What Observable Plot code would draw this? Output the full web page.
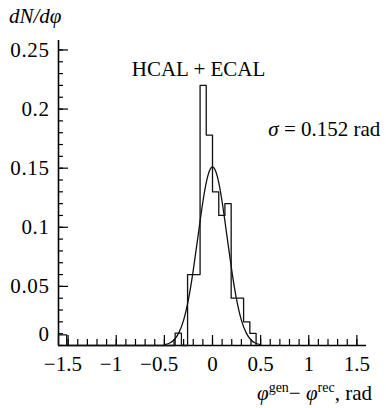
<!DOCTYPE html>
<html><head><meta charset="utf-8">
<script src="https://cdn.jsdelivr.net/npm/d3@7"></script>
<script src="https://cdn.jsdelivr.net/npm/@observablehq/plot@0.6"></script>
<style>
body{margin:0;background:#fff;}
#chart svg{font-family:"Liberation Serif","Times New Roman",serif;}
</style></head><body><div id="chart"></div>
<script>
// Histogram bins: edges and heights (dN/dφ)
const histEdges = [-1.6, -1.515, -0.388, -0.323, -0.259, -0.194, -0.129, -0.065, 0, 0.065, 0.129, 0.194, 0.259, 0.323, 0.388, 0.453];
const histValues = [0.009, 0, 0.0105, 0, 0.060, 0.060, 0.220, 0.178, 0.130, 0.110, 0.120, 0.040, 0.040, 0.020, 0.0103];
// Gaussian fit curve
const fitX = [-0.5, -0.45, -0.4, -0.35, -0.3, -0.25, -0.2, -0.15, -0.1, -0.05, 0, 0.05, 0.1, 0.15, 0.2, 0.25, 0.3, 0.35, 0.4, 0.45, 0.5];
const fitY = [0.0007, 0.0019, 0.0047, 0.0107, 0.0215, 0.039, 0.0636, 0.0927, 0.1216, 0.143, 0.151, 0.143, 0.1216, 0.0927, 0.0636, 0.039, 0.0215, 0.0107, 0.0047, 0.0019, 0.0007];
// Ticks
const xMajorTicks = [-1.5, -1, -0.5, 0, 0.5, 1, 1.5];
const xTickLabels = ["−1.5\u2002", "−1\u2002", "−0.5\u2002", "0", "0.5", "1", "1.5"];
const yMajorTicks = [0, 0.05, 0.1, 0.15, 0.2, 0.25];
const yTickLabels = ["0", "0.05", "0.1", "0.15", "0.2", "0.25"];
const xMinorTicks = d3.range(-15, 16).map(d => d / 10);
const yMinorTicks = d3.range(0, 26).map(d => d / 100);
// Texts
const titleText = "HCAL + ECAL";
const sigmaText = "σ = 0.152 rad";
const yTitle = "dN/dφ";

const outline = [{x: histEdges[0], y: 0}]
  .concat(histValues.map((v, i) => ({x: histEdges[i], y: v})))
  .concat([{x: histEdges[histEdges.length - 1], y: 0}]);
const fit = fitX.map((x, i) => ({x, y: fitY[i]}));

const plot = Plot.plot({
  width: 386, height: 408,
  marginLeft: 58, marginRight: 20, marginTop: 40, marginBottom: 63,
  style: {fontFamily: "Liberation Serif", fontSize: "21px", color: "#000", background: "#fff", overflow: "visible"},
  x: {domain: [-1.6, 1.6], label: null},
  y: {domain: [0, 0.258], label: null},
  marks: [
    Plot.axisX(xMinorTicks, {tickSize: 6, dy: -6, tickFormat: () => "", strokeWidth: 1.2, label: null}),
    Plot.axisX(xMajorTicks, {tickSize: 10, dy: -10, tickFormat: () => "", strokeWidth: 1.2, label: null}),
    Plot.axisX(xMajorTicks, {tickSize: 0, tickPadding: 11, tickFormat: d => xTickLabels[xMajorTicks.indexOf(d)], fontSize: 21, label: null, ariaLabel: "x-axis tick label"}),
    Plot.axisY(yMinorTicks, {tickSize: 5, dx: 5, tickFormat: () => "", strokeWidth: 1.2, label: null}),
    Plot.axisY(yMajorTicks, {tickSize: 10, dx: 10, tickFormat: () => "", strokeWidth: 1.2, label: null}),
    Plot.axisY(yMajorTicks, {tickSize: 0, tickPadding: 9, tickFormat: d => yTickLabels[yMajorTicks.indexOf(d)], fontSize: 21, label: null}),
    Plot.ruleX([-1.6], {strokeWidth: 1.6}),
    Plot.ruleY([0], {strokeWidth: 1.6}),
    Plot.line(outline, {x: "x", y: "y", curve: "step-after", strokeWidth: 1.3, stroke: "#111"}),
    Plot.line(fit, {x: "x", y: "y", curve: "natural", strokeWidth: 1.3, stroke: "#111"}),
    Plot.text([titleText], {x: -0.145, y: 0.2337, text: d => d, fontSize: 21, textAnchor: "middle", lineAnchor: "middle"}),
    Plot.text([sigmaText], {x: 0.58, y: 0.1825, text: d => d, fontSize: 21, textAnchor: "start", lineAnchor: "middle"})
  ]
});

const svg = d3.select(plot);
// slightly wider tick digits, as in the reference
svg.selectAll("g[aria-label='x-axis tick label'] text, g[aria-label='y-axis tick label'] text")
  .style("letter-spacing", "0.6px");
// the "0" label on the y axis sits a little above its tick in the reference
svg.selectAll("g[aria-label='y-axis tick label'] text")
  .filter(function() { return this.textContent === "0"; })
  .each(function() {
    const t = d3.select(this);
    const y = parseFloat(t.attr("y") || 0);
    t.attr("y", y - 5);
  });
// italic sigma
svg.selectAll("text").filter(function() { return this.textContent === sigmaText; })
  .each(function() {
    const t = d3.select(this);
    const tsp = t.select("tspan");
    const target = tsp.empty() ? t : tsp;
    target.text(null);
    target.append("tspan").attr("font-style", "italic").text("σ");
    target.append("tspan").text(" = 0.152 rad");
  });
svg.append("text").attr("x", 9).attr("y", 23).attr("font-style", "italic")
  .attr("text-anchor", "start").attr("font-size", 21).attr("fill", "#000").text(yTitle);
const xt = svg.append("text").attr("x", 372).attr("y", 400).attr("text-anchor", "end")
  .attr("font-size", 21).attr("fill", "#000");
xt.append("tspan").attr("font-style", "italic").text("φ");
xt.append("tspan").attr("font-size", 14).attr("dy", -8).text("gen");
xt.append("tspan").attr("dy", 8).text("− ");
xt.append("tspan").attr("font-style", "italic").text("φ");
xt.append("tspan").attr("font-size", 14).attr("dy", -8).text("rec");
xt.append("tspan").attr("dy", 8).text(", rad");

document.getElementById("chart").appendChild(plot);
</script></body></html>
